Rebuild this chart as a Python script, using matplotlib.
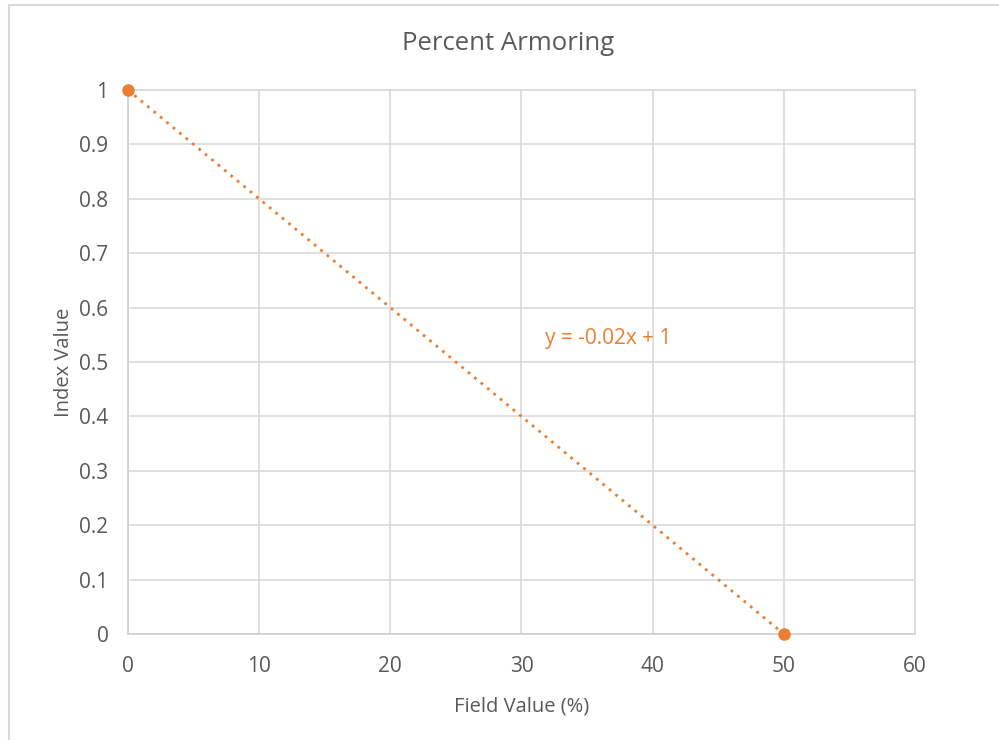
import matplotlib
matplotlib.use("Agg")
import matplotlib.pyplot as plt
from matplotlib.lines import Line2D

# data
field_value = [0, 50]
index_value = [1, 0]
x_ticks = [0, 10, 20, 30, 40, 50, 60]
y_ticks = [0, 0.1, 0.2, 0.3, 0.4, 0.5, 0.6, 0.7, 0.8, 0.9, 1]
y_labels = ["0", "0.1", "0.2", "0.3", "0.4", "0.5", "0.6", "0.7", "0.8", "0.9", "1"]
slope, intercept = -0.02, 1

plt.rcParams['font.family'] = ['Open Sans', 'DejaVu Sans']
orange = '#ED7D31'
grey_txt = '#595959'

fig = plt.figure(figsize=(9.99, 7.4), dpi=100)
ax = fig.add_axes([0.1281, 0.1432, 0.7878, 0.7352])

# trendline from the fit
tx = [x_ticks[0], field_value[-1]]
ty = [slope * v + intercept for v in tx]
ax.plot(tx, ty, linestyle=(0, (1, 2)), color=orange, linewidth=2, zorder=3)
ax.plot(field_value, index_value, 'o', color=orange, markersize=8, zorder=4, clip_on=False)

ax.set_xlim(0, 60)
ax.set_ylim(0, 1)
ax.set_xticks(x_ticks)
ax.set_yticks(y_ticks)
ax.set_yticklabels(y_labels)
ax.tick_params(length=0, labelsize=15, colors=grey_txt)
ax.tick_params(axis='x', pad=16)
ax.tick_params(axis='y', pad=14)
ax.grid(True, color='#d9d9d9', linewidth=1.2)
ax.set_axisbelow(True)
for s in ['top', 'right']:
    ax.spines[s].set_color('#d9d9d9')
    ax.spines[s].set_linewidth(1.2)
for s in ['left', 'bottom']:
    ax.spines[s].set_color('#d0d0d0')
    ax.spines[s].set_linewidth(1.2)

# title centred on the chart area, not the plot area
fig.text(508 / 999, 1 - 43 / 740, "Percent Armoring", fontsize=18.5, color=grey_txt,
         ha='center', va='center')
ax.set_xlabel("Field Value (%)", fontsize=14.5, color=grey_txt, labelpad=14)
ax.set_ylabel("Index Value", fontsize=14.5, color=grey_txt, labelpad=4)

ax.text(36.6, 0.544, "y = -0.02x + 1", color=orange, fontsize=15, ha='center', va='center')

# chart border (top and left edges visible)
fig.add_artist(Line2D([0.0088, 0.0088], [0, 0.993], color='#d9d9d9', linewidth=1.5, transform=fig.transFigure))
fig.add_artist(Line2D([0.0088, 1], [0.993, 0.993], color='#d9d9d9', linewidth=1.5, transform=fig.transFigure))

fig.savefig("out.png", dpi=100)
